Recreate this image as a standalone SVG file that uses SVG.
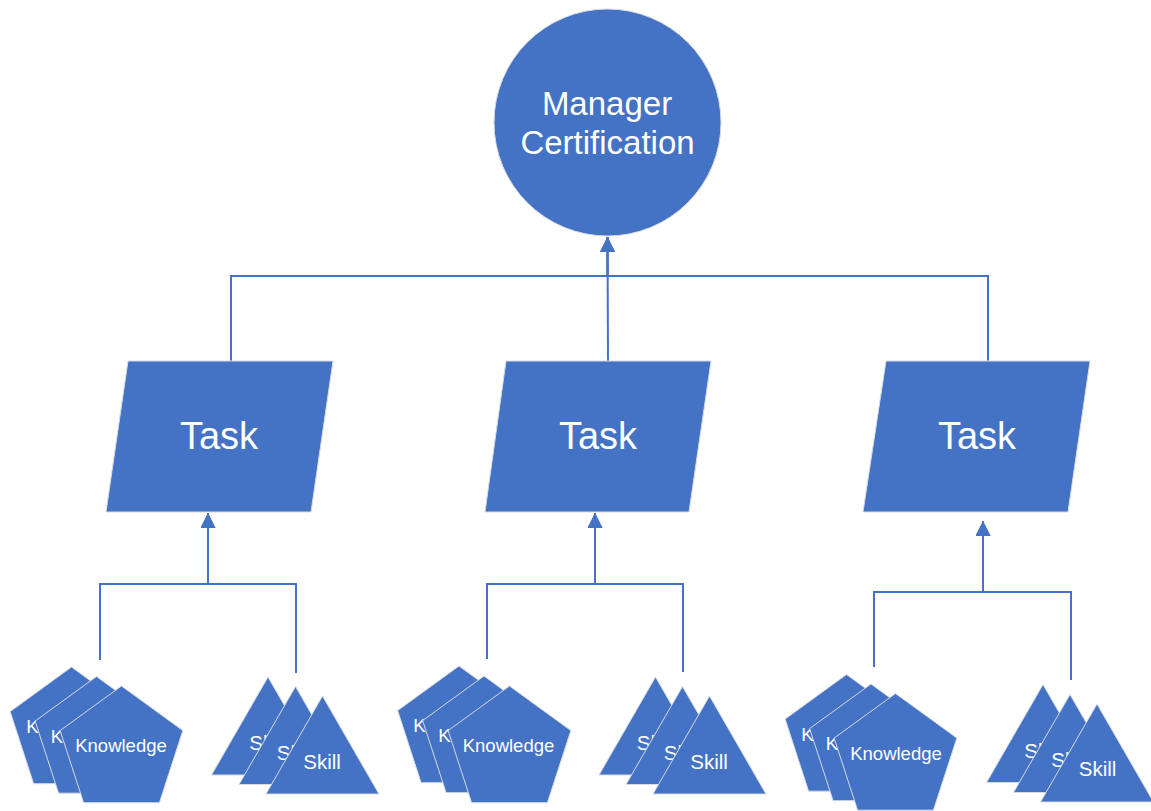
<svg xmlns="http://www.w3.org/2000/svg" width="1151" height="811" viewBox="0 0 1151 811">
<style>
.shape{fill:#4472C4;stroke:#d6dbe4;stroke-width:1}
.conn{fill:none;stroke:#4472C4;stroke-width:2}
.t{fill:#ffffff;font-family:"Liberation Sans",Arial,sans-serif;text-anchor:middle}
.big{font-size:33px}
.task{font-size:38px}
.kn{font-size:18.5px}
.sk{font-size:20.5px}
</style>
<defs>
<marker id="arr" viewBox="0 0 10 10" refX="10" refY="5" markerWidth="7.5" markerHeight="7.5" orient="auto" markerUnits="strokeWidth">
<path d="M0,0 L10,5 L0,10 z" fill="#4472C4"/>
</marker>
<polygon id="pent" points="0,0 61.35,44.57 37.91,116.68 -37.91,116.68 -61.35,44.57"/>
<polygon id="tri" points="0,0 56.5,98 -56.5,98"/>
</defs>
<rect width="1151" height="811" fill="#ffffff"/>

<g id="connectors">
<path class="conn" d="M231,361 L231,276 L607.5,276 L607.5,237" marker-end="url(#arr)"/>
<path class="conn" d="M988,361 L988,276 L607.5,276 L607.5,237" marker-end="url(#arr)"/>
<path class="conn" d="M608,361 L607.5,237" marker-end="url(#arr)"/>
<path class="conn" d="M100,660 L100,584 L208,584 L208,513" marker-end="url(#arr)"/>
<path class="conn" d="M296,673 L296,584 L208,584 L208,513" marker-end="url(#arr)"/>
<path class="conn" d="M487,659 L487,584 L595,584 L595,513" marker-end="url(#arr)"/>
<path class="conn" d="M683,672 L683,584 L595,584 L595,513" marker-end="url(#arr)"/>
<path class="conn" d="M874,667 L874,592 L983,592 L983,521" marker-end="url(#arr)"/>
<path class="conn" d="M1071,680 L1071,592 L983,592 L983,521" marker-end="url(#arr)"/>
</g>

<g id="manager">
<circle class="shape" cx="607.5" cy="122.5" r="113.5"/>
<text class="t big" x="607" y="115">Manager</text>
<text class="t big" x="607.5" y="154">Certification</text>
</g>

<g id="task1">
<polygon class="shape" points="128,361 333,361 311,512 106,512"/>
<text class="t task" x="219" y="449">Task</text>
</g>
<g id="task2">
<polygon class="shape" points="506,361 711,361 689,512 485,512"/>
<text class="t task" x="598" y="449">Task</text>
</g>
<g id="task3">
<polygon class="shape" points="886,361 1090,361 1068,512 863,512"/>
<text class="t task" x="977" y="449">Task</text>
</g>

<g id="knowledge1">
<use href="#pent" class="shape" x="71.5" y="667"/>
<text class="t kn" x="72" y="733">Knowledge</text>
<use href="#pent" class="shape" x="96.5" y="676.5"/>
<text class="t kn" x="96.5" y="742.5">Knowledge</text>
<use href="#pent" class="shape" x="121.5" y="686"/>
<text class="t kn" x="121" y="752">Knowledge</text>
</g>
<g id="skill1">
<use href="#tri" class="shape" x="268" y="677"/>
<text class="t sk" x="268" y="750">Skill</text>
<use href="#tri" class="shape" x="295.5" y="686.5"/>
<text class="t sk" x="295.5" y="759.5">Skill</text>
<use href="#tri" class="shape" x="322.5" y="696"/>
<text class="t sk" x="322" y="769">Skill</text>
</g>

<g id="knowledge2">
<use href="#pent" class="shape" x="459" y="666"/>
<text class="t kn" x="459" y="732">Knowledge</text>
<use href="#pent" class="shape" x="484" y="676"/>
<text class="t kn" x="484" y="742">Knowledge</text>
<use href="#pent" class="shape" x="509.5" y="686"/>
<text class="t kn" x="508.5" y="752">Knowledge</text>
</g>
<g id="skill2">
<use href="#tri" class="shape" x="655.5" y="677"/>
<text class="t sk" x="655.5" y="750">Skill</text>
<use href="#tri" class="shape" x="682.5" y="686.5"/>
<text class="t sk" x="682.5" y="759.5">Skill</text>
<use href="#tri" class="shape" x="709.5" y="696"/>
<text class="t sk" x="709" y="769">Skill</text>
</g>

<g id="knowledge3">
<use href="#pent" class="shape" x="846.5" y="674.5"/>
<text class="t kn" x="847" y="740.5">Knowledge</text>
<use href="#pent" class="shape" x="871" y="684"/>
<text class="t kn" x="871.5" y="750">Knowledge</text>
<use href="#pent" class="shape" x="895.5" y="693.5"/>
<text class="t kn" x="896" y="759.5">Knowledge</text>
</g>
<g id="skill3">
<use href="#tri" class="shape" x="1043" y="684.5"/>
<text class="t sk" x="1043" y="757.5">Skill</text>
<use href="#tri" class="shape" x="1070" y="694.5"/>
<text class="t sk" x="1070" y="767">Skill</text>
<use href="#tri" class="shape" x="1097" y="704"/>
<text class="t sk" x="1097.5" y="776">Skill</text>
</g>
</svg>
